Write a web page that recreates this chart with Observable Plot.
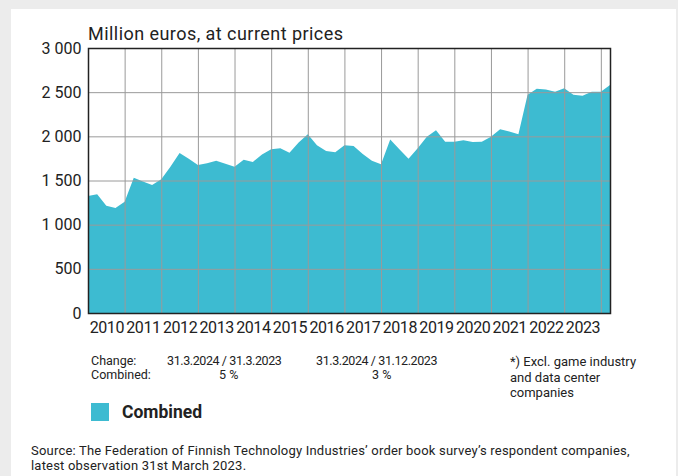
<!DOCTYPE html>
<html><head><meta charset="utf-8">
<script src="https://cdn.jsdelivr.net/npm/d3@7"></script>
<script src="https://cdn.jsdelivr.net/npm/@observablehq/plot@0.6"></script>
<style>
html,body{margin:0;padding:0;}
body{width:678px;height:476px;background:#ececec;position:relative;overflow:hidden;font-family:Roboto,sans-serif;color:#222;}
#panel{position:absolute;left:11px;top:9px;width:665px;height:467px;background:#fff;}
#chart{position:absolute;left:0;top:0;}
.t{position:absolute;white-space:nowrap;}
.s{font-size:12.5px;line-height:16px;}
.n{letter-spacing:-0.4px;}
g[aria-label="x-axis tick label"]{letter-spacing:-0.4px;}
</style></head><body>
<div id="panel"></div>
<div id="chart"></div>
<div class="t" style="left:88px;top:23px;font-size:18px;line-height:22px;letter-spacing:0.45px;">Million euros, at current prices</div>
<div class="t s" style="left:91px;top:353px;">Change:</div>
<div class="t s" style="left:91px;top:367px;">Combined:</div>
<div class="t s n" style="left:167px;top:353px;">31.3.2024 / 31.3.2023</div>
<div class="t s n" style="left:316px;top:353px;">31.3.2024 / 31.12.2023</div>
<div class="t s" style="left:219px;top:367px;">5 %</div>
<div class="t s" style="left:372px;top:367px;">3 %</div>
<div class="t" style="left:510px;top:354px;font-size:13px;line-height:15.5px;">*) Excl. game industry<br>and data center<br>companies</div>
<div class="t" style="left:91px;top:403px;width:18px;height:18px;background:#3dbbd1;"></div>
<div class="t" style="left:122px;top:402px;font-size:17.5px;line-height:20px;font-weight:bold;">Combined</div>
<div class="t" style="left:31px;top:443px;font-size:13px;line-height:15px;letter-spacing:0.2px;">Source: The Federation of Finnish Technology Industries’ order book survey’s respondent companies,<br>latest observation 31st March 2023.</div>
<script>
const quarters = [
 "2009 Q4",
 "2010 Q1","2010 Q2","2010 Q3","2010 Q4",
 "2011 Q1","2011 Q2","2011 Q3","2011 Q4",
 "2012 Q1","2012 Q2","2012 Q3","2012 Q4",
 "2013 Q1","2013 Q2","2013 Q3","2013 Q4",
 "2014 Q1","2014 Q2","2014 Q3","2014 Q4",
 "2015 Q1","2015 Q2","2015 Q3","2015 Q4",
 "2016 Q1","2016 Q2","2016 Q3","2016 Q4",
 "2017 Q1","2017 Q2","2017 Q3","2017 Q4",
 "2018 Q1","2018 Q2","2018 Q3","2018 Q4",
 "2019 Q1","2019 Q2","2019 Q3","2019 Q4",
 "2020 Q1","2020 Q2","2020 Q3","2020 Q4",
 "2021 Q1","2021 Q2","2021 Q3","2021 Q4",
 "2022 Q1","2022 Q2","2022 Q3","2022 Q4",
 "2023 Q1","2023 Q2","2023 Q3","2023 Q4",
 "2024 Q1"
];
const combined = [
 1325,
 1345,1215,1190,1260,
 1530,1490,1450,1515,
 1655,1810,1745,1675,
 1695,1725,1690,1655,
 1735,1710,1795,1855,
 1865,1815,1930,2025,
 1900,1835,1820,1900,
 1890,1800,1725,1685,
 1965,1855,1745,1865,
 1995,2070,1940,1940,
 1955,1935,1940,1995,
 2080,2055,2025,2470,
 2540,2530,2505,2545,
 2470,2460,2505,2505,
 2580
];
const yTicks = [0,500,1000,1500,2000,2500,3000];
const yearLabels = [2010,2011,2012,2013,2014,2015,2016,2017,2018,2019,2020,2021,2022,2023];
const gridYears = [2011,2012,2013,2014,2015,2016,2017,2018,2019,2020,2021,2022,2023,2024];

const toX = q => +q.slice(0,4) + (+q.slice(6))/4;
const data = quarters.map((q,i)=>({x: toX(q), y: combined[i]}));
const fmt = d3.formatLocale({thousands:" ", grouping:[3], decimal:","}).format(",");

const plot = Plot.plot({
  width:678, height:340,
  marginLeft:88, marginRight:68, marginTop:48, marginBottom:27,
  style:{background:"transparent", fontFamily:"Roboto, sans-serif", fontSize:"16px", color:"#222"},
  x:{domain:[2010,2024.25]},
  y:{domain:[0,3000]},
  marks:[
    Plot.areaY(data,{x:"x", y:"y", fill:"#3dbbd1"}),
    Plot.gridX(gridYears,{stroke:"#9a9a9a", strokeOpacity:1}),
    Plot.gridY(yTicks.slice(1,-1),{stroke:"#9a9a9a", strokeOpacity:1}),
    Plot.frame({stroke:"#222", strokeWidth:1.5}),
    Plot.axisY(yTicks,{tickSize:0, tickPadding:7, tickFormat:fmt, label:null, fontSize:16}),
    Plot.axisX(yearLabels.map(y=>y+0.5),{tickSize:0, tickPadding:8, tickFormat:d=>String(Math.floor(d)), label:null, fontSize:16})
  ]
});
document.getElementById("chart").appendChild(plot);
</script>
</body></html>
